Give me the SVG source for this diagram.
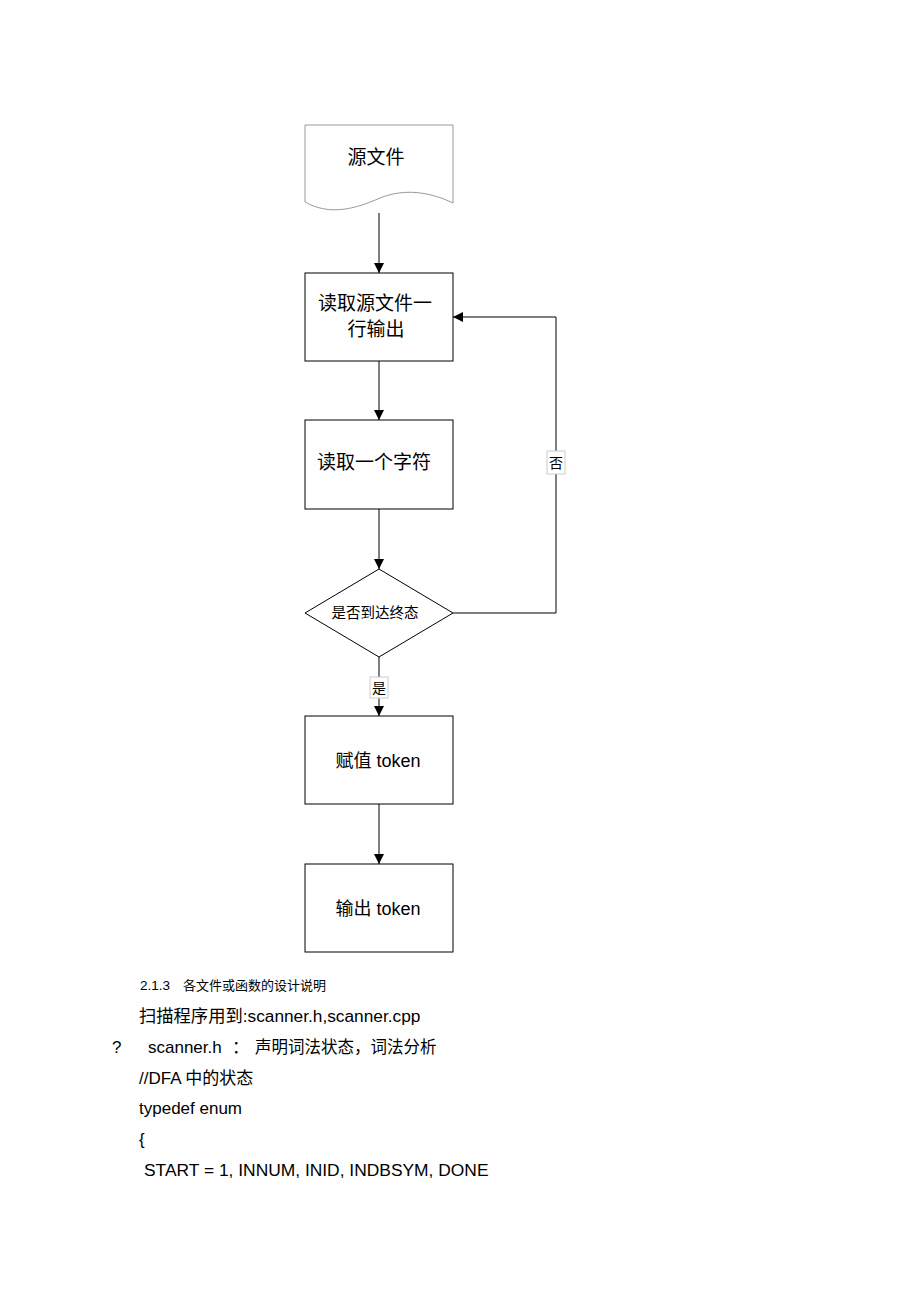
<svg xmlns="http://www.w3.org/2000/svg" width="920" height="1303" viewBox="0 0 920 1303">
<style>
.n{fill:#fff;stroke:#000;stroke-width:1}
.doc{fill:#fff;stroke:#999;stroke-width:1}
.c{fill:none;stroke:#000;stroke-width:1}
.t{font-family:"Liberation Sans","Noto Sans CJK SC",sans-serif;fill:#000}
.m{text-anchor:middle}
</style>
<defs>
<marker id="ah" viewBox="0 0 10 10" refX="10" refY="5" markerWidth="10" markerHeight="10" markerUnits="userSpaceOnUse" orient="auto">
<path d="M0,0 L10,5 L0,10 Z" fill="#000"/>
</marker>
</defs>
<rect width="920" height="1303" fill="#fff"/>
<g id="connectors">
<line class="c" x1="379" y1="213" x2="379" y2="273" marker-end="url(#ah)"/>
<line class="c" x1="379" y1="361" x2="379" y2="420" marker-end="url(#ah)"/>
<line class="c" x1="379" y1="509" x2="379" y2="569" marker-end="url(#ah)"/>
<polyline class="c" points="453,613 556,613 556,317 453,317" marker-end="url(#ah)"/>
<line class="c" x1="379" y1="657" x2="379" y2="716" marker-end="url(#ah)"/>
<line class="c" x1="379" y1="804" x2="379" y2="864" marker-end="url(#ah)"/>
<g id="label-no">
<rect x="547" y="451" width="18" height="23" fill="#fff" stroke="#ccc" stroke-width="1"/>
<text class="t m" x="556" y="468" font-size="14">否</text>
</g>
<g id="label-yes">
<rect x="370" y="677" width="18" height="21" fill="#fff" stroke="#ccc" stroke-width="1"/>
<text class="t m" x="379" y="693" font-size="14">是</text>
</g>
</g>
<g id="source">
<path class="doc" d="M305,125 L453,125 L453,203 C430,192 405,188 380,198 C355,209 330,216 305,202 Z"/>
<text class="t m" x="376" y="164" font-size="19">源文件</text>
</g>
<g id="readline">
<rect class="n" x="305" y="273" width="148" height="88"/>
<text class="t m" x="375" y="310" font-size="19">读取源文件一</text>
<text class="t m" x="376" y="336" font-size="19">行输出</text>
</g>
<g id="readchar">
<rect class="n" x="305" y="420" width="148" height="89"/>
<text class="t m" x="374" y="469" font-size="19">读取一个字符</text>
</g>
<g id="decision">
<polygon class="n" points="379,569 453,613 379,657 305,613" stroke="#555"/>
<text class="t m" x="375" y="618" font-size="14.5">是否到达终态</text>
</g>
<g id="assign">
<rect class="n" x="305" y="716" width="148" height="88"/>
<text class="t m" x="378" y="767" font-size="18">赋值 token</text>
</g>
<g id="output">
<rect class="n" x="305" y="864" width="148" height="88"/>
<text class="t m" x="378" y="915" font-size="18">输出 token</text>
</g>
<g id="body">
<text class="t" x="140" y="990" font-size="13.5">2.1.3<tspan x="183" font-size="13">各文件或函数的设计说明</tspan></text>
<text class="t" x="139" y="1022" font-size="17.3">扫描程序用到:scanner.h,scanner.cpp</text>
<text class="t" x="112" y="1053" font-size="17">?</text>
<text class="t" x="148" y="1053" font-size="17">scanner.h<tspan x="232">：</tspan><tspan x="255" font-size="16.5">声明词法状态，词法分析</tspan></text>
<text class="t" x="139" y="1084" font-size="17">//DFA 中的状态</text>
<text class="t" x="139" y="1114" font-size="17">typedef enum</text>
<text class="t" x="139" y="1145" font-size="17">{</text>
<text class="t" x="144" y="1176" font-size="17.4">START = 1, INNUM, INID, INDBSYM, DONE</text>
</g>
</svg>
